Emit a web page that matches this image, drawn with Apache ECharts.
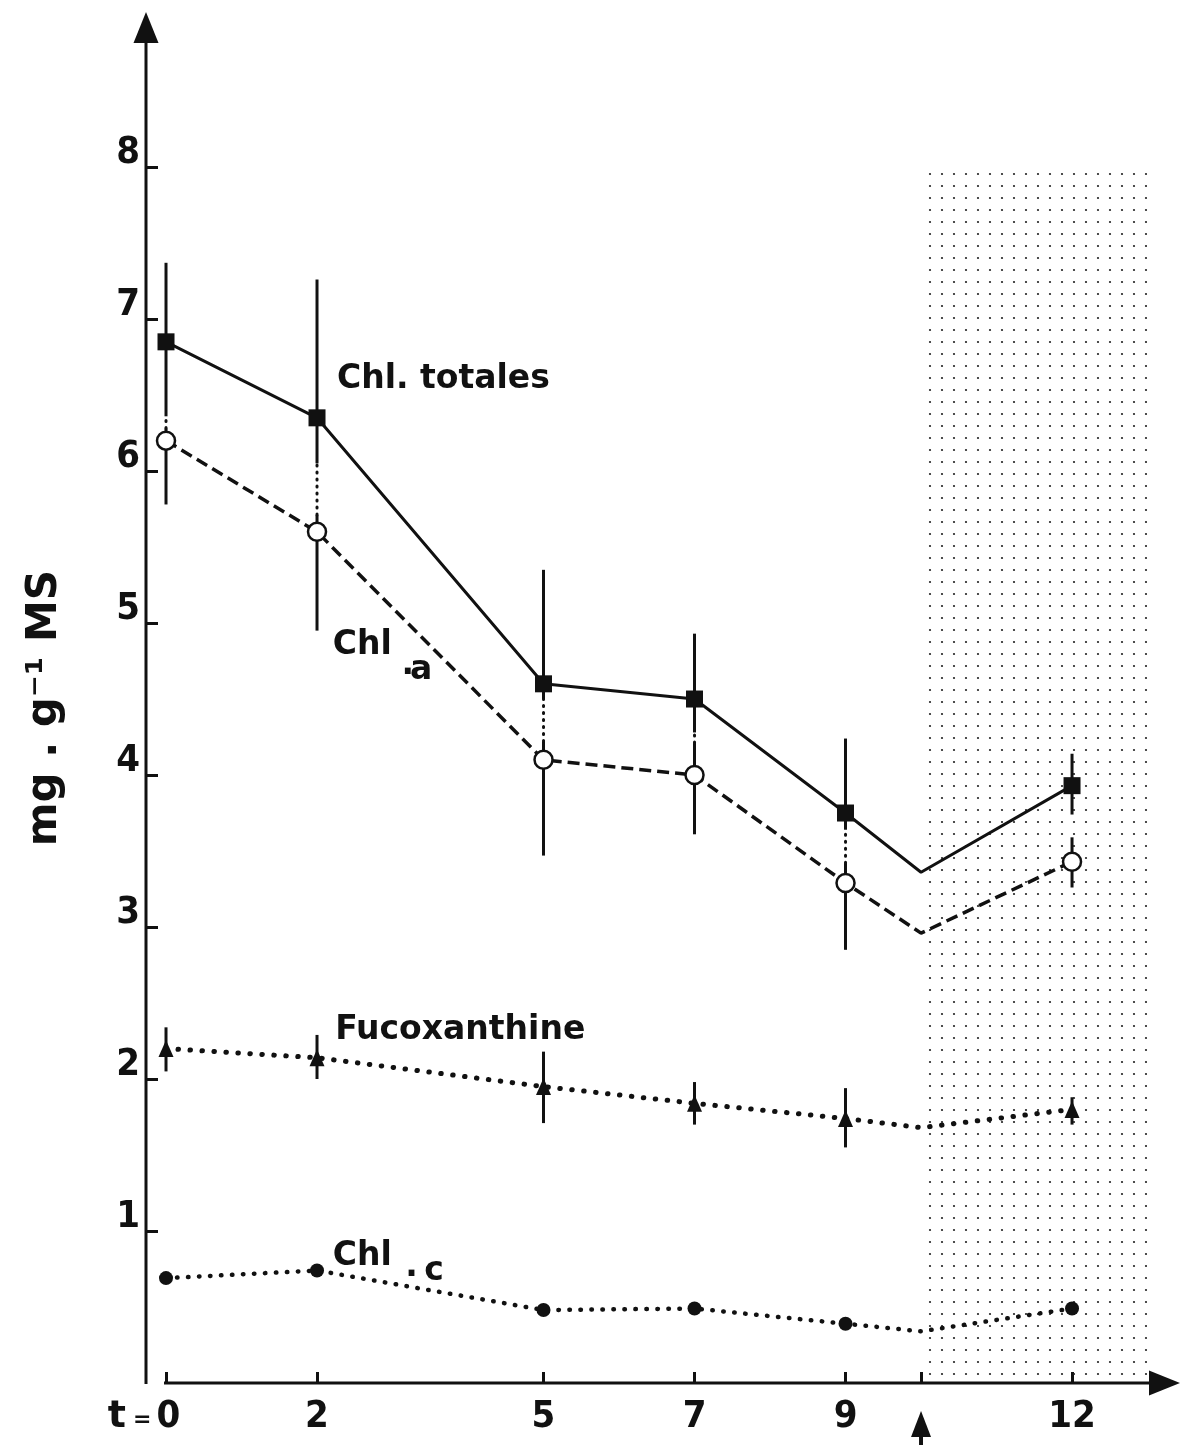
<!DOCTYPE html>
<html>
<head>
<meta charset="utf-8">
<script src="https://cdn.jsdelivr.net/npm/echarts@6/dist/echarts.min.js"></script>
<style>
  html, body { margin: 0; padding: 0; background: #fff; }
  #chart { width: 1196px; height: 1445px; }
</style>
</head>
<body>
<div id="chart"></div>
<script>
// Sampling days; t = 10 is the transfer day (arrow), the curves bend there without a sample marker
const days    = [0, 2, 5, 7, 9, 10, 12];
const sampled = [true, true, true, true, true, false, true];

// Chlorophylles totales (mg.g-1 MS) with error-bar ends
const chlTotales     = [6.85, 6.35, 4.60, 4.50, 3.75, 3.36, 3.93];
const chlTotalesHigh = [7.37, 7.26, 5.35, 4.93, 4.24, null, 4.14];
const chlTotalesLow  = [6.36, 6.05, 4.50, 4.28, 3.64, null, 3.74];

// Chlorophylle a
const chlA     = [6.20, 5.60, 4.10, 4.00, 3.29, 2.96, 3.43];
const chlAHigh = [6.28, 5.71, 4.22, 4.21, 3.42, null, 3.59];
const chlALow  = [5.78, 4.95, 3.47, 3.61, 2.85, null, 3.26];
// dotted link between the two bars where they join
const chlLinked = [true, true, true, true, true, false, false];

// Fucoxanthine
const fucoxanthine = [2.20, 2.14, 1.95, 1.84, 1.74, 1.68, 1.80];
const fucoHigh     = [2.34, 2.29, 2.18, 1.98, 1.94, null, 1.88];
const fucoLow      = [2.05, 2.00, 1.71, 1.70, 1.55, null, 1.70];

// Chlorophylle c
const chlC = [0.69, 0.74, 0.48, 0.49, 0.39, 0.34, 0.49];

// Axis ticks and labels
const xTickValues  = [0, 2, 5, 7, 9, 10, 12];
const xLabelValues = [0, 2, 5, 7, 9, 12];
const yTickValues  = [1, 2, 3, 4, 5, 6, 7, 8];

// Dotted period after transfer
const shadedPeriod = [10.05, 13.0];
const shadedTop = 8;

const INK = '#111';
const X_MIN = -0.265, X_MAX = 13.43;
const Y_MAX = 9.02;
const NARROW = '"Liberation Sans Narrow", "DejaVu Sans Condensed", "Liberation Sans", sans-serif';
const LABEL_FONT = '"DejaVu Sans", "Liberation Sans", sans-serif';

function dotPattern() {
  const c = document.createElement('canvas');
  c.width = 12; c.height = 12;
  const g = c.getContext('2d');
  g.fillStyle = '#222';
  g.beginPath();
  g.arc(6, 6, 1.1, 0, Math.PI * 2);
  g.fill();
  return c;
}

function lineData(values) {
  return days.map((d, i) => ({
    value: [d, values[i]],
    symbol: sampled[i] ? undefined : 'none'
  }));
}

function barRows(low, high) {
  const rows = [];
  days.forEach((d, i) => {
    if (low[i] != null && high[i] != null) rows.push([d, low[i], high[i]]);
  });
  return rows;
}

const linkRows = [];
days.forEach((d, i) => {
  if (chlLinked[i] && chlTotalesLow[i] != null && chlAHigh[i] != null) {
    linkRows.push([d, chlAHigh[i], chlTotalesLow[i]]);
  }
});

function renderBar(dotted) {
  return function (params, api) {
    const p1 = api.coord([api.value(0), api.value(1)]);
    const p2 = api.coord([api.value(0), api.value(2)]);
    return {
      type: 'line',
      shape: { x1: p1[0], y1: p1[1], x2: p2[0], y2: p2[1] },
      style: dotted
        ? { stroke: INK, lineWidth: 3, lineDash: [1, 6], lineCap: 'round' }
        : { stroke: INK, lineWidth: 3 }
    };
  };
}

const chart = echarts.init(document.getElementById('chart'), null, { renderer: 'canvas' });

const option = {
  animation: false,
  backgroundColor: '#fff',
  grid: { left: 146, right: 16, top: 12, bottom: 62 },
  xAxis: {
    type: 'value', min: X_MIN, max: X_MAX,
    axisLine: { show: false, onZero: false },
    splitLine: { show: false },
    axisTick: {
      show: true, inside: true, length: 11, customValues: xTickValues,
      lineStyle: { color: INK, width: 3 }
    },
    axisLabel: {
      show: true, customValues: xLabelValues, margin: 20,
      verticalAlign: 'top', lineHeight: 28,
      fontSize: 38, fontWeight: 'bold', fontFamily: NARROW, color: INK,
      formatter: v => v === 0 ? '{t|t}{e|=}{n|0}' : String(v),
      rich: {
        t: { fontFamily: LABEL_FONT, fontWeight: 'bold', fontSize: 38, lineHeight: 28, color: INK },
        e: { fontFamily: LABEL_FONT, fontWeight: 'bold', fontSize: 22, lineHeight: 28, color: INK, padding: [6, 5, 0, 7] },
        n: { fontFamily: NARROW, fontWeight: 'bold', fontSize: 38, lineHeight: 28, color: INK, padding: [0, 44, 0, 0] }
      }
    }
  },
  yAxis: {
    type: 'value', min: 0, max: Y_MAX,
    axisLine: { show: false, onZero: false },
    splitLine: { show: false },
    axisTick: {
      show: true, inside: true, length: 12, customValues: yTickValues,
      lineStyle: { color: INK, width: 3 }
    },
    axisLabel: {
      show: true, customValues: yTickValues, margin: 6,
      verticalAlign: 'bottom', lineHeight: 28,
      fontSize: 38, fontWeight: 'bold', fontFamily: NARROW, color: INK
    }
  },
  series: [
    {
      // dotted background of the post-transfer period
      type: 'line', name: 'periode', z: 0, silent: true,
      data: [[shadedPeriod[0], 0]], symbol: 'none', lineStyle: { opacity: 0 },
      markArea: {
        silent: true,
        itemStyle: { color: { image: dotPattern(), repeat: 'repeat' } },
        data: [[{ coord: [shadedPeriod[0], 0] }, { coord: [shadedPeriod[1], shadedTop] }]]
      }
    },
    {
      // axis lines with arrow heads, and the transfer arrow under t = 10
      type: 'custom', name: 'axes', z: 5, silent: true, clip: false,
      data: [[0, 0]],
      renderItem: function (params, api) {
        const o = api.coord([0, 0]);
        const xe = api.coord([X_MAX, 0]);
        const yb = api.coord([X_MIN, 0]);
        const ye = api.coord([X_MIN, Y_MAX]);
        const t10 = api.coord([10, 0]);
        const L = 31, H = 12.5;
        return {
          type: 'group',
          children: [
            { type: 'line', shape: { x1: o[0] - 2, y1: o[1], x2: xe[0] - L + 2, y2: o[1] }, style: { stroke: INK, lineWidth: 3 } },
            { type: 'polygon', shape: { points: [[xe[0], xe[1]], [xe[0] - L, xe[1] - H], [xe[0] - L, xe[1] + H]] }, style: { fill: INK } },
            { type: 'line', shape: { x1: yb[0], y1: yb[1] + 1, x2: yb[0], y2: ye[1] + L - 2 }, style: { stroke: INK, lineWidth: 3 } },
            { type: 'polygon', shape: { points: [[ye[0], ye[1]], [ye[0] - H, ye[1] + L], [ye[0] + H, ye[1] + L]] }, style: { fill: INK } },
            { type: 'polygon', shape: { points: [[t10[0], t10[1] + 28], [t10[0] - 10, t10[1] + 54], [t10[0] + 10, t10[1] + 54]] }, style: { fill: INK } },
            { type: 'line', shape: { x1: t10[0], y1: t10[1] + 50, x2: t10[0], y2: t10[1] + 70 }, style: { stroke: INK, lineWidth: 4 } }
          ]
        };
      }
    },
    { type: 'custom', name: 'err-totales', z: 2, silent: true, data: barRows(chlTotalesLow, chlTotalesHigh), encode: { x: 0, y: [1, 2] }, renderItem: renderBar(false) },
    { type: 'custom', name: 'err-chla', z: 2, silent: true, data: barRows(chlALow, chlAHigh), encode: { x: 0, y: [1, 2] }, renderItem: renderBar(false) },
    { type: 'custom', name: 'err-link', z: 2, silent: true, data: linkRows, encode: { x: 0, y: [1, 2] }, renderItem: renderBar(true) },
    { type: 'custom', name: 'err-fuco', z: 2, silent: true, data: barRows(fucoLow, fucoHigh), encode: { x: 0, y: [1, 2] }, renderItem: renderBar(false) },
    {
      type: 'line', name: 'Chl. totales', z: 3, silent: true,
      data: lineData(chlTotales),
      symbol: 'rect', symbolSize: 17, showAllSymbol: true,
      itemStyle: { color: INK },
      lineStyle: { color: INK, width: 3 }
    },
    {
      type: 'line', name: 'Chl.a', z: 3, silent: true,
      data: lineData(chlA),
      symbol: 'circle', symbolSize: 18, showAllSymbol: true,
      itemStyle: { color: '#fff', borderColor: INK, borderWidth: 2.5 },
      lineStyle: { color: INK, width: 3.5, type: [12, 6] }
    },
    {
      type: 'line', name: 'Fucoxanthine', z: 3, silent: true,
      data: lineData(fucoxanthine),
      symbol: 'triangle', symbolSize: [15, 17], showAllSymbol: true,
      itemStyle: { color: INK },
      lineStyle: { color: INK, width: 5, type: [0.5, 11.5], cap: 'round' }
    },
    {
      type: 'line', name: 'Chl.c', z: 3, silent: true,
      data: lineData(chlC),
      symbol: 'circle', symbolSize: 14, showAllSymbol: true,
      itemStyle: { color: INK },
      lineStyle: { color: INK, width: 4.5, type: [0.5, 10.5], cap: 'round' }
    }
  ]
};

chart.setOption(option);

// Curve names and the vertical axis title, anchored in data space
const curveLabels = [
  { text: 'Chl. totales', at: [2.265, 6.605] },
  { text: 'Chl', at: [2.21, 4.85] },
  { text: '.', at: [3.12, 4.72] },
  { text: 'a', at: [3.23, 4.69] },
  { text: 'Fucoxanthine', at: [2.24, 2.32] },
  { text: 'Chl', at: [2.21, 0.83] },
  { text: '.', at: [3.17, 0.76] },
  { text: 'c', at: [3.42, 0.737] }
];

const graphics = curveLabels.map(l => {
  const p = chart.convertToPixel({ gridIndex: 0 }, l.at);
  return {
    type: 'text', x: p[0], y: p[1], silent: true, z: 10,
    style: {
      text: l.text, fill: INK, align: 'left', verticalAlign: 'middle',
      font: 'bold 33px ' + LABEL_FONT
    }
  };
});

const titleAt = chart.convertToPixel({ gridIndex: 0 }, [-1.6, 4.44]);
graphics.push({
  type: 'text', x: titleAt[0], y: titleAt[1], rotation: Math.PI / 2, silent: true, z: 10,
  style: {
    text: 'mg . g\u207B\u00B9 MS', fill: INK, align: 'center', verticalAlign: 'middle',
    font: 'bold 42px ' + LABEL_FONT
  }
});

chart.setOption({ graphic: graphics });
</script>
</body>
</html>
